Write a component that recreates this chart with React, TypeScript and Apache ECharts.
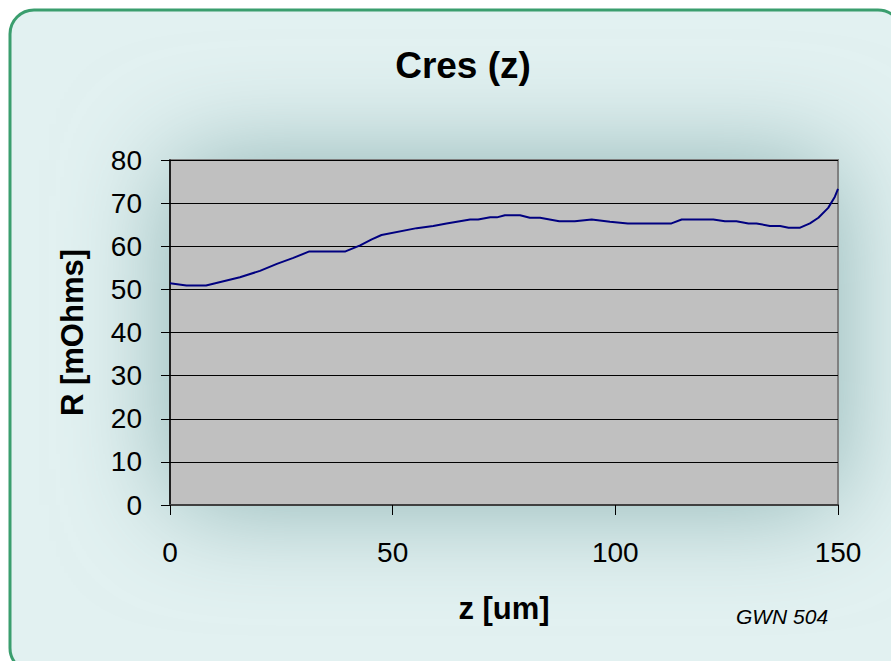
import React, { useEffect, useRef } from "react";
import * as echarts from "echarts";

const zValues = [0, 3.7, 8.1, 15.7, 20.2, 24, 27.7, 31.3, 39.4, 42.7, 45.3, 47.5, 55.4, 59.1, 62.1, 67.4, 69.2, 71.9, 73.4, 75.2, 78.6, 80.8, 83.1, 87.4, 90.9, 94.7, 98.8, 102.8, 112.6, 114.9, 122, 124.6, 127.2, 129.9, 131.7, 134.7, 137, 138.9, 141.5, 143.7, 145.6, 147.8, 149.3, 150];
const rValues = [51.4, 50.9, 50.9, 52.8, 54.3, 55.9, 57.3, 58.8, 58.8, 60.2, 61.6, 62.6, 64.2, 64.7, 65.3, 66.2, 66.2, 66.7, 66.7, 67.2, 67.2, 66.6, 66.6, 65.8, 65.8, 66.2, 65.7, 65.3, 65.3, 66.2, 66.2, 65.8, 65.8, 65.3, 65.3, 64.7, 64.7, 64.3, 64.3, 65.3, 66.6, 68.9, 71.5, 73.3];

const titleText = "Cres (z)";
const xName = "z [um]";
const yName = "R [mOhms]";
const noteText = "GWN 504";

export default function App() {
  const ref = useRef<HTMLDivElement>(null);
  useEffect(() => {
    if (!ref.current) return;
    const chart = echarts.init(ref.current, null, { renderer: "svg" });
    const font = "Arial, 'Liberation Sans', sans-serif";
    chart.setOption({
      animation: false,
      textStyle: { fontFamily: font },
      title: {
        text: titleText,
        left: 458,
        top: 42,
        textAlign: "center",
        textStyle: { fontSize: 37, fontWeight: "bold", color: "#000", fontFamily: font },
      },
      graphic: [
        {
          type: "rect",
          z: -20,
          shape: { x: 10, y: 10, width: 892, height: 662, r: 24 },
          style: { fill: "#e2f1f1", stroke: "#3a9e6e", lineWidth: 3 },
        },
        {
          type: "rect",
          z: -19,
          shape: { x: 170, y: 160, width: 668, height: 345 },
          style: { fill: "#a9c4c4", shadowBlur: 110, shadowColor: "rgba(140,178,178,1)" },
        },
        {
          type: "text",
          z: 10,
          x: 782,
          y: 616,
          style: {
            text: noteText,
            fill: "#000",
            font: "italic 21px " + font,
            textAlign: "center",
            textVerticalAlign: "middle",
          },
        },
      ],
      grid: {
        left: 170,
        top: 160,
        width: 668,
        height: 345,
        show: true,
        backgroundColor: "#c0c0c0",
        borderColor: "#808080",
        borderWidth: 2,
      },
      xAxis: {
        type: "value",
        min: 0,
        max: 150,
        interval: 50,
        name: xName,
        nameLocation: "middle",
        nameGap: 88,
        nameTextStyle: { fontSize: 31, fontWeight: "bold", color: "#000", fontFamily: font },
        axisLine: { show: true, onZero: false, lineStyle: { color: "#404040", width: 2 } },
        axisTick: { show: true, length: 10, inside: false, lineStyle: { color: "#000", width: 1 } },
        axisLabel: { fontSize: 28, color: "#000", margin: 33, fontFamily: font },
        splitLine: { show: false },
      },
      yAxis: {
        type: "value",
        min: 0,
        max: 80,
        interval: 10,
        name: yName,
        nameLocation: "middle",
        nameGap: 82,
        nameTextStyle: { fontSize: 31, fontWeight: "bold", color: "#000", fontFamily: font },
        axisLine: { show: true, lineStyle: { color: "#000", width: 1.5 } },
        axisTick: { show: true, length: 9, inside: false, lineStyle: { color: "#000", width: 1 } },
        axisLabel: { fontSize: 28, color: "#000", margin: 28, fontFamily: font },
        splitLine: { show: true, lineStyle: { color: "#000", width: 1 } },
      },
      series: [
        {
          type: "line",
          data: zValues.map((z, i) => [z, rValues[i]]),
          showSymbol: false,
          symbol: "none",
          lineStyle: { color: "#000080", width: 2 },
          clip: false,
        },
      ],
    });
    return () => chart.dispose();
  }, []);
  return <div ref={ref} style={{ position: "fixed", left: 0, top: 0, width: 891, height: 661, background: "#fff" }} />;
}
